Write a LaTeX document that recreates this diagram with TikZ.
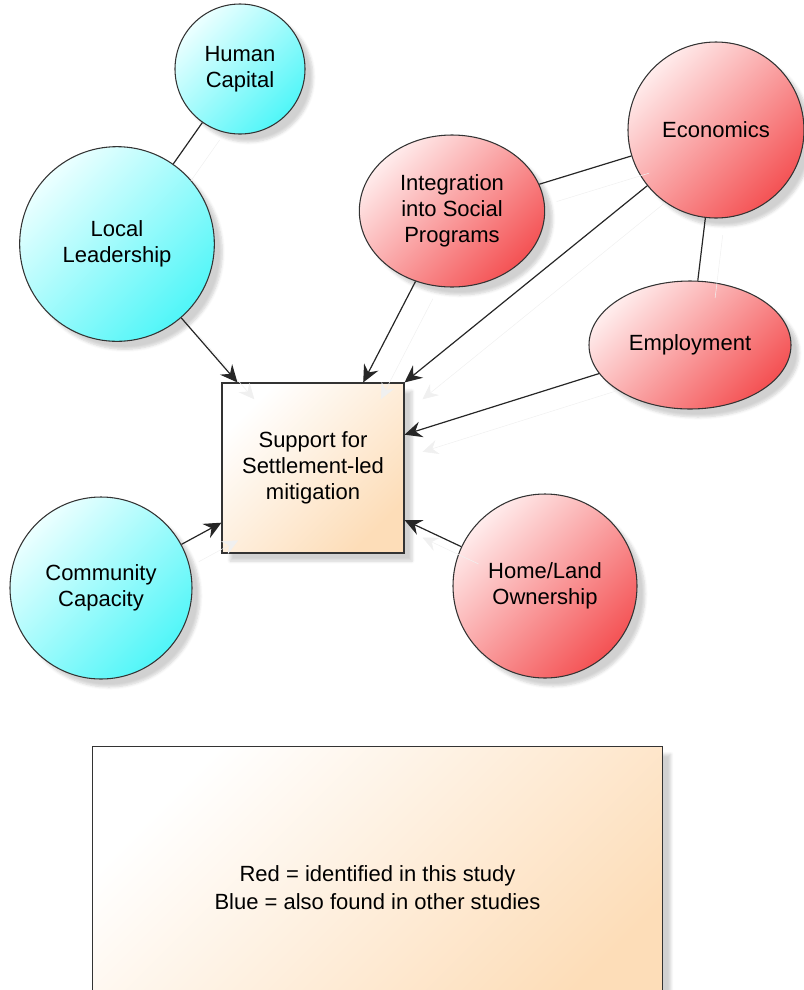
\documentclass[tikz,border=0pt]{standalone}
\usepackage{fontspec}
\setmainfont{Liberation Sans}
\usetikzlibrary{arrows.meta,shapes.geometric,shadows.blur}

\definecolor{cyanlight}{RGB}{236,255,255}
\definecolor{cyandark}{RGB}{80,246,248}
\definecolor{redlight}{RGB}{255,236,236}
\definecolor{reddark}{RGB}{244,82,84}
\definecolor{peachlight}{RGB}{255,255,255}
\definecolor{peachdark}{RGB}{253,221,184}

\tikzset{
	factor/.style={draw=black!80, line width=0.8pt, inner sep=0pt, align=center,
		font=\fontsize{16.5}{19.5}\selectfont,
		blur shadow={shadow xshift=6pt, shadow yshift=-6pt, shadow opacity=18, shadow blur steps=6}},
	blue factor/.style={factor, circle, top color=cyanlight, bottom color=cyandark, shading angle=45},
	red factor/.style={factor, ellipse, top color=redlight, bottom color=reddark, shading angle=45},
	outcome/.style={factor, rectangle, top color=peachlight, bottom color=peachdark, shading angle=45},
	link/.style={draw=black!85, line width=0.9pt,
		preaction={draw=black!6, transform canvas={shift={(13pt,-13pt)}}}},
	leads/.style={link, -{Stealth[length=13pt,width=12pt,inset=4.5pt]}}
}

\begin{document}
\begin{tikzpicture}[x=0.75pt, y=-0.75pt]
	\useasboundingbox (0,0) rectangle (804,990);

	\node[blue factor, minimum size=97.5pt] (hc) at (240,69) {Human\\Capital};
	\node[blue factor, minimum size=146pt] (ll) at (117,244) {Local\\Leadership};
	\node[blue factor, minimum size=136.5pt] (cc) at (101,588) {Community\\Capacity};
	\node[red factor, minimum width=139pt, minimum height=114pt] (isp) at (452,211) {Integration\\into Social\\Programs};
	\node[red factor, minimum width=132pt, minimum height=132pt] (econ) at (716,130) {Economics};
	\node[red factor, minimum width=151.5pt, minimum height=96pt] (emp) at (690,345) {Employment};
	\node[red factor, minimum width=138pt, minimum height=138pt] (home) at (545,586) {Home/Land\\Ownership};
	\node[outcome, minimum width=136.5pt, minimum height=127.5pt] (support) at (313,468) {Support for\\Settlement-led\\mitigation};

	\node[outcome, minimum width=428pt, minimum height=212pt, font=\fontsize{16.5}{21.5}\selectfont] (key) at (377.5,887.5) {Red = identified in this study\\Blue = also found in other studies};

	\draw[link] (hc) -- (ll);
	\draw[link] (isp) -- (econ);
	\draw[link] (econ) -- (emp);

	\draw[leads] (ll) -- ([xshift=12pt]support.north west);
	\draw[leads] (isp) -- ([xshift=-31pt]support.north east);
	\draw[leads] (econ) -- (support.north east);
	\draw[leads] (emp) -- ([yshift=25pt]support.east);
	\draw[leads] (home) -- ([yshift=-39pt]support.east);
	\draw[leads] (cc) -- ([yshift=-41pt]support.west);
\end{tikzpicture}
\end{document}
